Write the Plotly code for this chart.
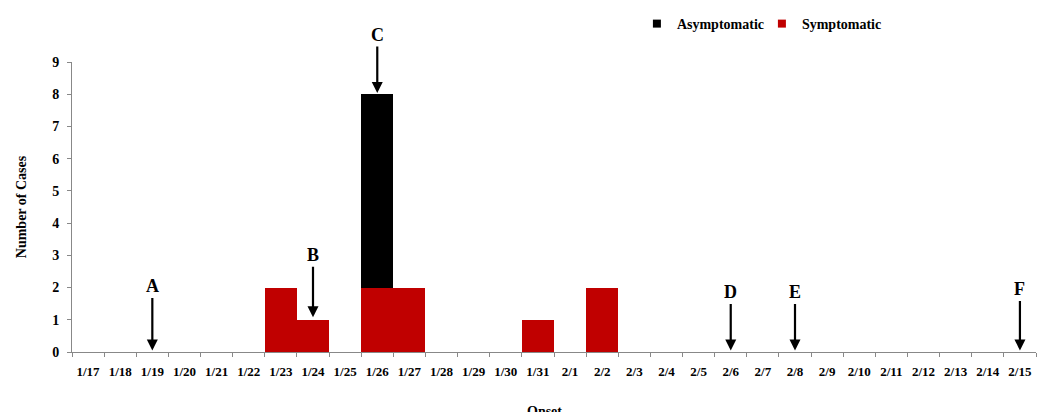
import plotly.graph_objects as go

dates = ["1/17", "1/18", "1/19", "1/20", "1/21", "1/22", "1/23", "1/24", "1/25", "1/26",
         "1/27", "1/28", "1/29", "1/30", "1/31", "2/1", "2/2", "2/3", "2/4", "2/5",
         "2/6", "2/7", "2/8", "2/9", "2/10", "2/11", "2/12", "2/13", "2/14", "2/15"]
symptomatic = [0, 0, 0, 0, 0, 0, 2, 1, 0, 2,
               2, 0, 0, 0, 1, 0, 2, 0, 0, 0,
               0, 0, 0, 0, 0, 0, 0, 0, 0, 0]
asymptomatic = [0, 0, 0, 0, 0, 0, 0, 0, 0, 6,
                0, 0, 0, 0, 0, 0, 0, 0, 0, 0,
                0, 0, 0, 0, 0, 0, 0, 0, 0, 0]

arrow_labels = ["A", "B", "C", "D", "E", "F"]
arrow_dates = ["1/19", "1/24", "1/26", "2/6", "2/8", "2/15"]
arrow_heads = [0.05, 1.08, 8.04, 0.05, 0.05, 0.05]
arrow_len = [-64, -62, -58, -58, -58, -61]

RED = "#C00000"
FONT = "Liberation Serif"

fig = go.Figure()
fig.add_trace(go.Bar(x=dates, y=symptomatic, name="Symptomatic", showlegend=False,
                     marker=dict(color=RED, line=dict(width=0))))
fig.add_trace(go.Bar(x=dates, y=asymptomatic, name="Asymptomatic", showlegend=False,
                     marker=dict(color="#000000", line=dict(width=0))))
# legend-only entries with small square swatches
fig.add_trace(go.Scatter(x=[None], y=[None], mode="markers", name="Asymptomatic",
                         marker=dict(symbol="square", size=8, color="#000000")))
fig.add_trace(go.Scatter(x=[None], y=[None], mode="markers", name="Symptomatic",
                         marker=dict(symbol="square", size=8, color=RED)))

for lab, d, h, L in zip(arrow_labels, arrow_dates, arrow_heads, arrow_len):
    fig.add_annotation(x=d, y=h, xref="x", yref="y", text=lab,
                       showarrow=True, ax=0, ay=L, arrowhead=2, arrowsize=1,
                       arrowwidth=2.2, arrowcolor="black",
                       font=dict(family=FONT, size=18, color="black", weight="bold"))

fig.add_annotation(x=0.49, y=-0.172, xref="paper", yref="paper", text="Onset",
                   showarrow=False, yanchor="top",
                   font=dict(family=FONT, size=14, color="black", weight="bold"))

fig.update_layout(
    width=1051, height=412,
    margin=dict(l=64, r=23, t=54, b=68, autoexpand=False),
    paper_bgcolor="white", plot_bgcolor="white",
    barmode="stack", bargap=0,
    showlegend=True,
    legend=dict(orientation="h", x=0.586, y=1.131, xanchor="left", yanchor="middle",
                traceorder="normal",
                font=dict(family=FONT, size=14, color="black", weight="bold"),
                itemwidth=30, entrywidth=80),
    xaxis=dict(type="category", tickson="boundaries", ticks="outside", ticklen=4,
               tickangle=0, ticklabelstandoff=7,
               tickcolor="#888888", showline=True, linecolor="#888888", linewidth=1,
               showgrid=False, automargin=False,
               tickfont=dict(family=FONT, size=13, color="black", weight="bold")),
    yaxis=dict(range=[0, 9], dtick=1, ticks="outside", ticklen=4,
               ticklabelstandoff=5,
               tickcolor="#888888", showline=True, linecolor="#888888", linewidth=1,
               showgrid=False, zeroline=False, automargin=False,
               tickfont=dict(family=FONT, size=14, color="black", weight="bold"),
               title=dict(text="Number of Cases", standoff=22,
                          font=dict(family=FONT, size=14, color="black", weight="bold"))),
)

fig.write_html("out.html")
